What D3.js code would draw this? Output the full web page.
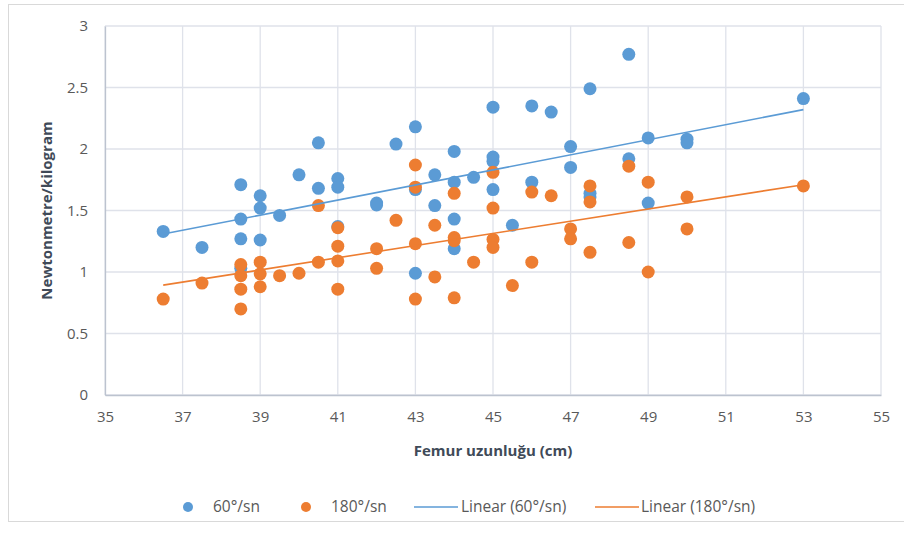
<!DOCTYPE html>
<html>
<head>
<meta charset="utf-8">
<script src="https://cdn.jsdelivr.net/npm/d3@7"></script>
<style>
  body { margin: 0; background: #fff; }
  svg { font-family: "Open Sans", sans-serif; }
  .tick text { fill: #595959; font-size: 15px; }
</style>
</head>
<body>
<div id="chart"></div>
<script>
// femur length (cm) and torque per kg, 60°/sn
const femur60 = [36.5, 37.5, 38.5, 38.5, 38.5, 38.5, 39, 39, 39, 39.5, 40, 40.5, 40.5, 41, 41, 41,
  42, 42, 42.5, 43, 43, 43, 43.5, 43.5, 44, 44, 44, 44, 44.5, 45, 45, 45, 45, 45.5, 46, 46, 46.5,
  47, 47, 47.5, 47.5, 47.5, 48.5, 48.5, 49, 49, 50, 50, 53];
const torque60 = [1.33, 1.20, 1.71, 1.43, 1.27, 1.03, 1.62, 1.52, 1.26, 1.46, 1.79, 2.05, 1.68, 1.76, 1.69, 1.37,
  1.56, 1.545, 2.04, 2.18, 1.67, 0.99, 1.79, 1.54, 1.98, 1.73, 1.43, 1.19, 1.77, 2.34, 1.935, 1.90, 1.67, 1.38, 2.35, 1.73, 2.30,
  2.02, 1.85, 2.49, 1.64, 1.61, 2.77, 1.92, 2.09, 1.56, 2.08, 2.05, 2.41];

// 180°/sn
const femur180 = [36.5, 37.5, 38.5, 38.5, 38.5, 38.5, 39, 39, 39, 39.5, 40, 40.5, 40.5, 41, 41, 41, 41,
  42, 42, 42.5, 43, 43, 43, 43, 43.5, 43.5, 44, 44, 44, 44, 44.5, 45, 45, 45, 45, 45.5, 46, 46, 46.5,
  47, 47, 47.5, 47.5, 47.5, 48.5, 48.5, 49, 49, 50, 50, 53];
const torque180 = [0.78, 0.91, 1.06, 0.97, 0.86, 0.70, 1.08, 0.985, 0.88, 0.97, 0.99, 1.54, 1.08, 1.36, 1.21, 1.09, 0.86,
  1.19, 1.03, 1.42, 1.87, 1.69, 1.23, 0.78, 1.38, 0.96, 1.64, 1.28, 1.255, 0.79, 1.08, 1.81, 1.52, 1.265, 1.20, 0.89, 1.65, 1.08, 1.62,
  1.35, 1.27, 1.70, 1.57, 1.16, 1.86, 1.24, 1.73, 1.00, 1.61, 1.35, 1.70];

const xTicks = [35, 37, 39, 41, 43, 45, 47, 49, 51, 53, 55];
const yTicks = [0, 0.5, 1, 1.5, 2, 2.5, 3];

const series = [
  { name: "60°/sn", trend: "Linear (60°/sn)", xs: femur60, ys: torque60, color: "#5b9bd5" },
  { name: "180°/sn", trend: "Linear (180°/sn)", xs: femur180, ys: torque180, color: "#ed7d31" }
];

const W = 904, H = 533;
const margin = { top: 26, right: 23, bottom: 138, left: 105 };
const w = W - margin.left - margin.right;
const h = H - margin.top - margin.bottom;

const svg = d3.select("#chart").append("svg").attr("width", W).attr("height", H);

// outer chart border
svg.append("rect").attr("x", 8.5).attr("y", 4.5).attr("width", W).attr("height", 517)
  .attr("fill", "none").attr("stroke", "#d9d9d9");

const g = svg.append("g").attr("transform", `translate(${margin.left},${margin.top})`);

const x = d3.scaleLinear().domain([35, 55]).range([0, w]);
const y = d3.scaleLinear().domain([0, 3]).range([h, 0]);

// gridlines
g.append("g").selectAll("line").data(yTicks).join("line")
  .attr("x1", 0).attr("x2", w).attr("y1", d => y(d)).attr("y2", d => y(d))
  .attr("stroke", "#dfe2ea").attr("stroke-width", 1.3);
g.append("g").selectAll("line").data(xTicks).join("line")
  .attr("y1", 0).attr("y2", h).attr("x1", d => x(d)).attr("x2", d => x(d))
  .attr("stroke", "#dfe2ea").attr("stroke-width", 1.3);

// axes
const xAxis = g.append("g").attr("transform", `translate(0,${h})`)
  .call(d3.axisBottom(x).tickValues(xTicks).tickSize(0).tickPadding(16));
const yAxis = g.append("g")
  .call(d3.axisLeft(y).tickValues(yTicks).tickSize(0).tickPadding(17).tickFormat(d3.format("")));
xAxis.select(".domain").attr("stroke", "#bcc3cf").attr("stroke-width", 1.3);
yAxis.select(".domain").attr("stroke", "#bcc3cf").attr("stroke-width", 1.3);
xAxis.selectAll("text").attr("font-family", "Open Sans");
yAxis.selectAll("text").attr("font-family", "Open Sans");

// least squares fit
function fit(xs, ys) {
  const mx = d3.mean(xs), my = d3.mean(ys);
  let sxy = 0, sxx = 0;
  xs.forEach((v, i) => { sxy += (v - mx) * (ys[i] - my); sxx += (v - mx) * (v - mx); });
  const b = sxy / sxx;
  return { a: my - b * mx, b: b };
}

series.forEach(s => {
  const pts = s.xs.map((v, i) => [v, s.ys[i]]);
  g.append("g").selectAll("circle").data(pts).join("circle")
    .attr("cx", d => x(d[0])).attr("cy", d => y(d[1])).attr("r", 6.5)
    .attr("fill", s.color);
});

series.forEach(s => {
  const f = fit(s.xs, s.ys);
  const ext = d3.extent(s.xs);
  g.append("line")
    .attr("x1", x(ext[0])).attr("y1", y(f.a + f.b * ext[0]))
    .attr("x2", x(ext[1])).attr("y2", y(f.a + f.b * ext[1]))
    .attr("stroke", s.color).attr("stroke-width", 1.6);
});

// axis titles
svg.append("text").attr("x", margin.left + w / 2).attr("y", 456)
  .attr("text-anchor", "middle").attr("font-size", 15).attr("font-weight", "bold")
  .attr("fill", "#404a58").text("Femur uzunluğu (cm)");
svg.append("text").attr("transform", `translate(52,${margin.top + h / 2}) rotate(-90)`)
  .attr("text-anchor", "middle").attr("font-size", 15).attr("font-weight", "bold")
  .attr("fill", "#404a58").text("Newtonmetre/kilogram");

// legend
const ly = 507;
const leg = svg.append("g").attr("font-size", 15.5).attr("fill", "#595959");
const items = [
  { type: "dot", color: series[0].color, label: series[0].name, mx: 188, tx: 213 },
  { type: "dot", color: series[1].color, label: series[1].name, mx: 306, tx: 331 },
  { type: "line", color: series[0].color, label: series[0].trend, mx: 414, tx: 461 },
  { type: "line", color: series[1].color, label: series[1].trend, mx: 595, tx: 641 }
];
items.forEach(it => {
  if (it.type === "dot") {
    leg.append("circle").attr("cx", it.mx).attr("cy", ly).attr("r", 5).attr("fill", it.color);
  } else {
    leg.append("line").attr("x1", it.mx).attr("x2", it.mx + 44).attr("y1", ly).attr("y2", ly)
      .attr("stroke", it.color).attr("stroke-width", 1.6);
  }
  leg.append("text").attr("x", it.tx).attr("y", ly).attr("dy", "0.35em").text(it.label);
});
</script>
</body>
</html>
